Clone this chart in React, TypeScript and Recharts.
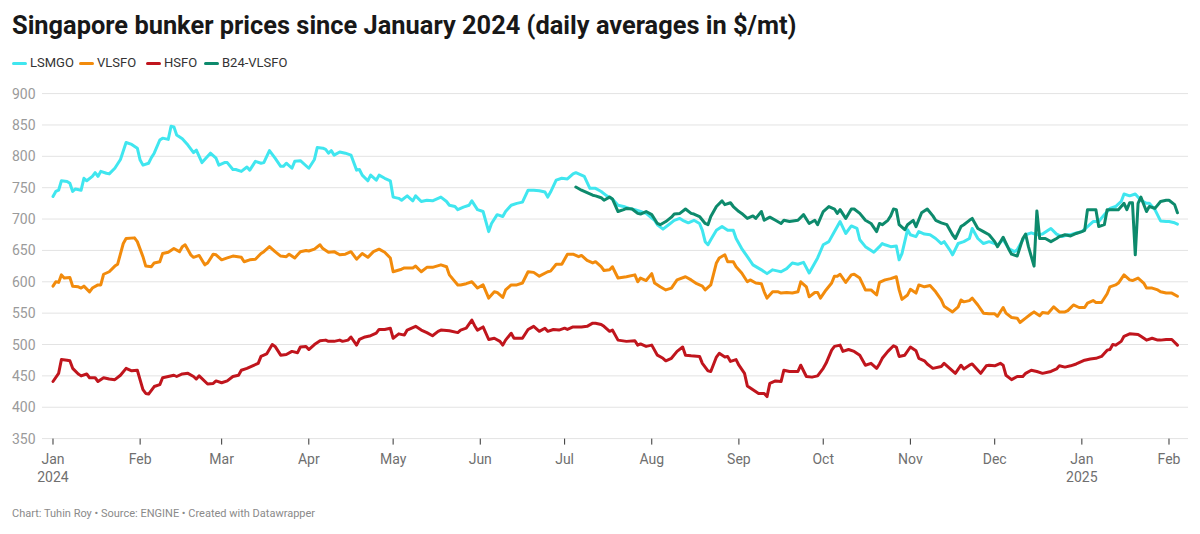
import React from 'react';
import { LineChart, Line, XAxis, YAxis, CartesianGrid } from 'recharts';

// x = days since 1 Jan 2024
const monthTicks = [0, 31, 60, 91, 121, 152, 182, 213, 244, 274, 305, 335, 366, 397];
const monthLabels = ['Jan', 'Feb', 'Mar', 'Apr', 'May', 'Jun', 'Jul', 'Aug', 'Sep', 'Oct', 'Nov', 'Dec', 'Jan', 'Feb'];
const yearLabels = ['2024', '', '', '', '', '', '', '', '', '', '', '', '2025', ''];
const yTicks = [350, 400, 450, 500, 550, 600, 650, 700, 750, 800, 850, 900];

const seriesNames = ['LSMGO', 'VLSFO', 'HSFO', 'B24-VLSFO'];
const seriesColors = ['#40e6ef', '#f28b0c', '#c0151d', '#0d8a6c'];

const lsmgo: [number, number][] = [
  [0, 736], [1, 744], [2, 746], [3, 761], [5, 760], [6, 757], [7, 744], [8, 748], [10, 746], [11, 765], [12, 761],
  [14, 768], [15, 774], [16, 768], [17, 776], [19, 773], [20, 772], [22, 781], [24, 795], [26, 822], [28, 819],
  [30, 813], [31, 794], [32, 786], [34, 789], [35, 798], [36, 805], [38, 826], [39, 829], [41, 827], [42, 848],
  [43, 847], [44, 834], [46, 828], [48, 818], [50, 806], [51, 810], [53, 790], [56, 805], [58, 797], [59, 786],
  [61, 790], [62, 790], [64, 779], [65, 779], [67, 776], [69, 783], [70, 778], [72, 792], [74, 789], [75, 790],
  [77, 809], [79, 797], [81, 784], [82, 784], [83, 789], [85, 781], [86, 792], [88, 793], [91, 781], [93, 795],
  [94, 814], [96, 813], [97, 811], [98, 805], [99, 809], [100, 802], [102, 807], [104, 805], [106, 802], [108, 778],
  [109, 779], [110, 770], [112, 761], [113, 770], [115, 762], [116, 770], [118, 765], [120, 761], [121, 735],
  [123, 733], [124, 730], [126, 737], [128, 729], [129, 737], [131, 728], [133, 730], [135, 729], [138, 735],
  [140, 728], [141, 722], [143, 720], [144, 715], [146, 719], [148, 722], [149, 729], [151, 715], [153, 712],
  [155, 680], [156, 693], [158, 707], [160, 704], [161, 712], [163, 722], [165, 725], [167, 727], [169, 746],
  [171, 746], [173, 745], [175, 743], [176, 735], [177, 743], [179, 762], [181, 765], [183, 764], [185, 772],
  [186, 774], [188, 770], [189, 768], [191, 749], [193, 749], [195, 744], [197, 737], [199, 732], [201, 722],
  [203, 720], [205, 717], [207, 715], [209, 712], [211, 709], [214, 698], [215, 691], [217, 684], [219, 691],
  [221, 698], [223, 701], [224, 698], [226, 694], [228, 698], [230, 693], [231, 682], [232, 664], [233, 659],
  [234, 667], [236, 682], [238, 688], [240, 682], [242, 682], [243, 669], [245, 653], [247, 640], [249, 627],
  [252, 619], [254, 613], [256, 619], [258, 617], [259, 616], [261, 621], [263, 630], [265, 628], [267, 631],
  [269, 614], [271, 630], [272, 638], [274, 659], [276, 664], [278, 680], [280, 696], [282, 677], [284, 689],
  [286, 685], [287, 667], [289, 656], [292, 647], [294, 656], [295, 661], [296, 659], [298, 656], [300, 657],
  [301, 635], [302, 645], [304, 683], [305, 675], [307, 672], [308, 680], [310, 676], [312, 675], [314, 669],
  [316, 661], [317, 664], [319, 651], [320, 643], [322, 661], [324, 664], [326, 669], [327, 685], [329, 669],
  [331, 661], [333, 664], [335, 661], [336, 659], [338, 667], [340, 653], [342, 648], [343, 651], [345, 667],
  [346, 675], [348, 678], [350, 675], [352, 676], [354, 682], [355, 685], [357, 676], [359, 672], [361, 675],
  [362, 675], [364, 678], [366, 680], [368, 688], [370, 696], [372, 696], [374, 707], [376, 717], [378, 720],
  [380, 728], [381, 740], [383, 737], [385, 740], [387, 730], [389, 725], [390, 725], [392, 715], [394, 697],
  [396, 696], [397, 696], [399, 694], [400, 692],
];

const vlsfo: [number, number][] = [
  [0, 593], [1, 600], [2, 599], [3, 611], [4, 606], [6, 607], [7, 593], [9, 592], [10, 590], [11, 593], [13, 584],
  [14, 590], [16, 595], [17, 595], [18, 612], [20, 616], [22, 625], [23, 628], [25, 661], [26, 669], [29, 670],
  [30, 664], [32, 640], [33, 625], [35, 624], [36, 630], [38, 632], [39, 645], [41, 647], [43, 653], [45, 648],
  [46, 656], [47, 659], [49, 643], [50, 639], [52, 642], [54, 627], [55, 630], [57, 644], [58, 643], [60, 635],
  [62, 638], [64, 641], [67, 639], [68, 632], [70, 635], [72, 636], [74, 645], [75, 648], [77, 656], [79, 648],
  [81, 641], [83, 640], [84, 644], [86, 638], [88, 648], [90, 650], [91, 649], [93, 652], [95, 659], [96, 653],
  [98, 647], [100, 648], [102, 643], [104, 644], [106, 648], [108, 636], [110, 645], [112, 639], [114, 648],
  [116, 652], [118, 647], [120, 638], [121, 616], [124, 620], [125, 622], [128, 622], [129, 625], [131, 616],
  [133, 623], [135, 623], [138, 627], [140, 624], [141, 611], [144, 595], [145, 595], [147, 597], [149, 600],
  [151, 590], [153, 595], [155, 574], [157, 584], [158, 583], [160, 575], [161, 587], [163, 595], [165, 595],
  [167, 598], [169, 616], [171, 615], [173, 609], [176, 616], [177, 617], [179, 628], [181, 628], [183, 644],
  [185, 644], [187, 640], [188, 642], [190, 634], [192, 630], [193, 632], [195, 624], [196, 618], [198, 619],
  [199, 624], [201, 606], [204, 608], [207, 611], [208, 600], [209, 606], [211, 602], [213, 613], [214, 598],
  [216, 592], [218, 587], [220, 590], [222, 603], [225, 608], [227, 603], [229, 597], [231, 593], [232, 587],
  [234, 595], [236, 630], [237, 638], [239, 643], [240, 632], [242, 632], [243, 624], [245, 614], [247, 600],
  [248, 603], [250, 598], [252, 597], [253, 584], [254, 574], [256, 584], [258, 584], [259, 582], [261, 583],
  [263, 582], [265, 584], [266, 600], [268, 592], [269, 576], [271, 583], [272, 583], [273, 574], [275, 587],
  [277, 598], [278, 609], [279, 609], [280, 612], [282, 599], [284, 611], [285, 612], [287, 606], [289, 587],
  [291, 587], [293, 579], [294, 599], [296, 603], [298, 605], [300, 608], [301, 587], [302, 572], [304, 579],
  [305, 588], [307, 582], [308, 595], [310, 592], [312, 594], [314, 584], [316, 571], [317, 561], [320, 552],
  [322, 560], [323, 571], [324, 568], [326, 570], [327, 574], [329, 563], [331, 550], [333, 549], [335, 549],
  [336, 545], [338, 559], [339, 550], [341, 543], [343, 542], [344, 535], [346, 542], [348, 549], [349, 552],
  [351, 546], [352, 551], [354, 550], [356, 560], [358, 552], [360, 552], [361, 554], [363, 563], [365, 559],
  [367, 559], [368, 566], [370, 570], [371, 567], [373, 567], [375, 581], [376, 592], [378, 595], [379, 598],
  [381, 611], [383, 603], [384, 602], [386, 606], [388, 598], [389, 590], [391, 590], [393, 587], [394, 584],
  [396, 582], [398, 582], [400, 577],
];

const hsfo: [number, number][] = [
  [0, 441], [2, 454], [3, 476], [5, 475], [6, 474], [7, 462], [9, 453], [10, 450], [12, 453], [13, 447], [15, 447],
  [16, 441], [18, 447], [20, 445], [22, 444], [24, 451], [26, 462], [28, 458], [30, 459], [32, 428], [33, 422],
  [34, 421], [36, 433], [38, 436], [39, 447], [41, 449], [43, 451], [44, 449], [46, 453], [48, 454], [50, 449],
  [51, 445], [52, 450], [55, 437], [57, 438], [58, 442], [60, 439], [62, 442], [64, 449], [66, 451], [67, 459],
  [69, 462], [71, 466], [73, 470], [74, 481], [76, 485], [78, 500], [79, 497], [81, 483], [83, 484], [85, 489],
  [87, 487], [88, 496], [90, 497], [91, 492], [93, 500], [95, 506], [97, 507], [98, 505], [100, 505], [102, 507],
  [103, 505], [105, 507], [106, 512], [108, 499], [109, 508], [111, 512], [113, 514], [115, 518], [116, 524],
  [118, 524], [120, 526], [121, 510], [123, 517], [125, 515], [126, 523], [129, 529], [131, 523], [133, 519],
  [135, 514], [137, 521], [138, 523], [141, 522], [144, 519], [145, 523], [147, 526], [149, 539], [150, 530],
  [151, 523], [153, 528], [155, 508], [157, 510], [159, 505], [160, 499], [161, 507], [163, 518], [164, 510],
  [167, 510], [169, 524], [171, 529], [173, 521], [175, 526], [176, 521], [178, 524], [180, 523], [182, 526],
  [183, 524], [185, 528], [188, 528], [190, 529], [192, 534], [193, 534], [195, 532], [196, 529], [198, 521],
  [199, 523], [201, 507], [204, 505], [207, 506], [208, 499], [209, 501], [211, 497], [213, 499], [215, 483],
  [217, 478], [218, 474], [220, 478], [222, 489], [224, 496], [225, 483], [227, 482], [230, 481], [231, 470],
  [233, 458], [234, 457], [236, 480], [237, 486], [239, 480], [240, 481], [241, 473], [243, 476], [244, 467],
  [246, 454], [247, 434], [249, 428], [251, 422], [253, 422], [254, 417], [255, 438], [257, 442], [259, 441],
  [260, 459], [262, 457], [265, 457], [266, 467], [268, 449], [270, 448], [272, 450], [274, 462], [275, 470],
  [277, 491], [278, 497], [280, 499], [281, 489], [283, 492], [285, 489], [287, 483], [289, 467], [291, 470],
  [293, 462], [294, 469], [295, 478], [297, 489], [299, 498], [300, 496], [301, 481], [303, 483], [305, 496],
  [307, 490], [308, 478], [310, 474], [311, 469], [313, 462], [316, 465], [317, 470], [319, 462], [321, 454],
  [323, 467], [324, 461], [326, 467], [327, 469], [330, 454], [332, 466], [333, 467], [335, 466], [337, 470],
  [338, 467], [339, 451], [341, 444], [343, 449], [345, 449], [346, 454], [348, 459], [350, 457], [352, 454],
  [355, 457], [357, 461], [358, 466], [360, 464], [362, 466], [364, 469], [367, 475], [369, 477], [371, 478],
  [373, 481], [375, 491], [376, 492], [377, 500], [378, 499], [380, 505], [381, 513], [383, 517], [386, 516],
  [387, 513], [389, 507], [391, 510], [393, 507], [394, 507], [396, 508], [398, 508], [400, 499],
];

const b24: [number, number][] = [
  [186, 751], [188, 746], [190, 742], [192, 738], [193, 737], [195, 734], [196, 730], [198, 735], [199, 732],
  [201, 712], [203, 715], [204, 717], [206, 716], [208, 709], [209, 708], [211, 712], [213, 707], [215, 693],
  [216, 691], [218, 696], [220, 703], [221, 708], [223, 709], [225, 716], [227, 709], [228, 708], [230, 704],
  [232, 693], [233, 691], [234, 704], [236, 720], [238, 729], [239, 723], [241, 726], [242, 720], [244, 712],
  [245, 709], [247, 701], [249, 705], [250, 701], [252, 712], [253, 698], [255, 703], [257, 698], [259, 693],
  [260, 698], [262, 696], [265, 698], [267, 707], [269, 693], [271, 698], [272, 691], [274, 712], [276, 720],
  [278, 716], [279, 709], [280, 715], [282, 701], [284, 716], [285, 716], [287, 709], [289, 698], [291, 693],
  [293, 680], [294, 693], [295, 691], [297, 698], [298, 705], [299, 716], [300, 715], [301, 691], [303, 683],
  [304, 691], [306, 698], [307, 688], [309, 710], [311, 716], [313, 705], [314, 698], [316, 694], [318, 691],
  [320, 675], [321, 669], [323, 688], [324, 691], [326, 698], [327, 701], [329, 685], [331, 680], [333, 675],
  [335, 664], [336, 656], [338, 671], [340, 652], [341, 644], [343, 641], [345, 669], [346, 676], [347, 656],
  [349, 625], [350, 713], [351, 669], [353, 669], [355, 664], [357, 669], [358, 672], [360, 675], [362, 673],
  [364, 677], [366, 680], [367, 682], [368, 715], [371, 715], [372, 688], [374, 691], [375, 715], [377, 715],
  [379, 715], [381, 725], [382, 715], [383, 726], [384, 726], [385, 643], [386, 725], [387, 735], [389, 712],
  [390, 720], [392, 717], [394, 728], [396, 730], [397, 730], [399, 723], [400, 710],
];

const toRows = (pts: [number, number][]) => pts.map(([day, price]) => ({ day, price }));
const seriesData = [toRows(lsmgo), toRows(vlsfo), toRows(hsfo), toRows(b24)];

const FONT = 'Roboto, "Noto Sans", sans-serif';

const YTick = (props: any) => {
  const { y, payload } = props;
  return (
    <text x={12} y={y} dy={5} fill="#9a9a9a" fontSize={14} fontFamily={FONT} textAnchor="start">
      {payload.value}
    </text>
  );
};

const XTick = (props: any) => {
  const { x, y, payload } = props;
  const i = monthTicks.indexOf(payload.value);
  return (
    <g>
      <text x={x} y={y} dy={19.5} fill="#6f6f6f" fontSize={14} fontFamily={FONT} textAnchor="middle">
        {monthLabels[i]}
      </text>
      {yearLabels[i] ? (
        <text x={x} y={y} dy={37} fill="#6f6f6f" fontSize={14} fontFamily={FONT} textAnchor="middle">
          {yearLabels[i]}
        </text>
      ) : null}
    </g>
  );
};

export default function App() {
  const legendX = [12, 79, 146, 204];
  return (
    <div style={{ position: 'absolute', left: 0, top: 0, width: 1200, height: 534, background: '#fff', fontFamily: FONT, overflow: 'hidden' }}>
      <div style={{ position: 'absolute', left: 12, top: 7, fontSize: 25.4, fontWeight: 700, color: '#181818', whiteSpace: 'nowrap', lineHeight: '36px' }}>
        Singapore bunker prices since January 2024 (daily averages in $/mt)
      </div>
      {seriesNames.map((name, i) => (
        <div key={name} style={{ position: 'absolute', left: legendX[i], top: 54, height: 18, display: 'flex', alignItems: 'center', whiteSpace: 'nowrap' }}>
          <div style={{ width: 15, height: 3, borderRadius: 2, background: seriesColors[i], marginRight: 3 }} />
          <span style={{ fontSize: 13, color: '#333', lineHeight: '18px' }}>{name}</span>
        </div>
      ))}
      <div style={{ position: 'absolute', left: 0, top: 0 }}>
        <LineChart width={1200} height={534} margin={{ top: 93.6, right: 12, bottom: 55.4, left: 0 }}>
          <CartesianGrid vertical={false} stroke="#e3e3e3" strokeWidth={1} />
          <XAxis
            dataKey="day"
            type="number"
            domain={[-3.91, 403.76]}
            allowDataOverflow
            ticks={monthTicks}
            tick={<XTick />}
            tickSize={6}
            tickMargin={0}
            tickLine={{ stroke: '#333', strokeWidth: 1 }}
            axisLine={false}
            height={40}
            interval={0}
          />
          <YAxis
            type="number"
            domain={[350, 900]}
            ticks={yTicks}
            tick={<YTick />}
            axisLine={false}
            tickLine={false}
            width={42}
            interval={0}
          />
          {seriesData.map((d, i) => (
            <Line
              key={seriesNames[i]}
              data={d}
              dataKey="price"
              name={seriesNames[i]}
              type="linear"
              stroke={seriesColors[i]}
              strokeWidth={3}
              dot={false}
              activeDot={false}
              isAnimationActive={false}
              strokeLinejoin="round"
              strokeLinecap="round"
            />
          ))}
        </LineChart>
      </div>
      <div style={{ position: 'absolute', left: 12, top: 506, fontSize: 11, color: '#8a8a8a', whiteSpace: 'nowrap', lineHeight: '16px' }}>
        Chart: Tuhin Roy • Source: ENGINE • Created with Datawrapper
      </div>
    </div>
  );
}
